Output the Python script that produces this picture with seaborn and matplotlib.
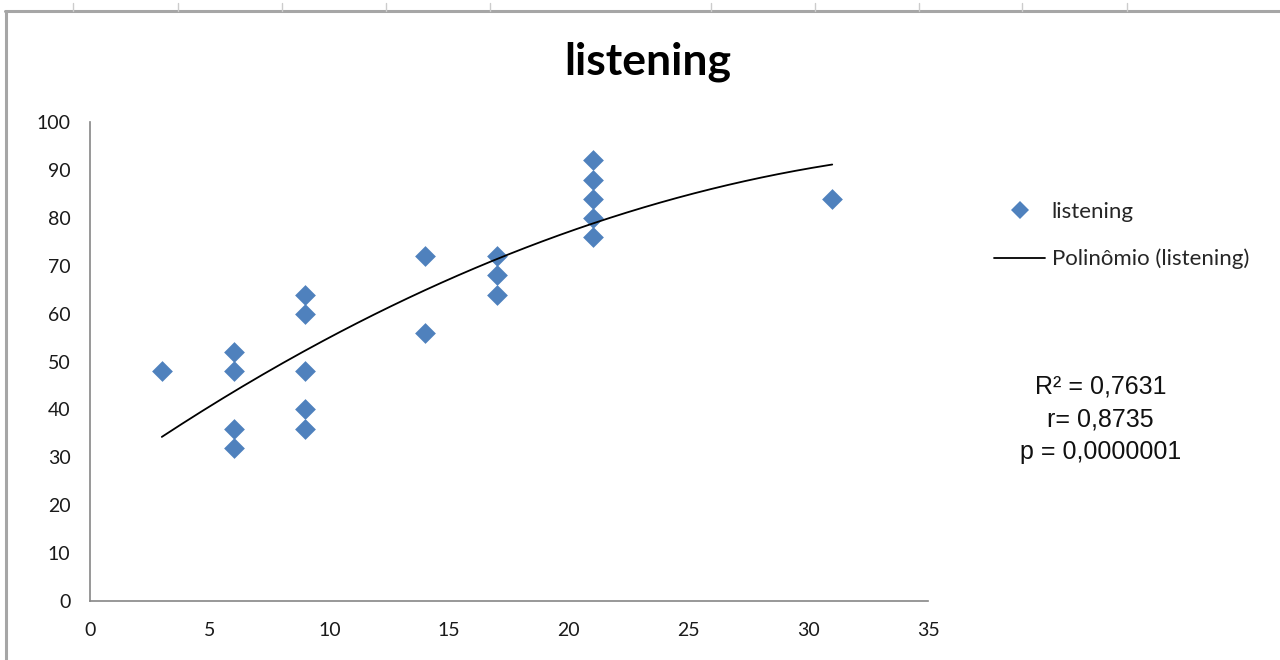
import matplotlib
matplotlib.use("Agg")
import matplotlib.pyplot as plt
import seaborn as sns
import pandas as pd
import numpy as np
from matplotlib.lines import Line2D

# data
hours = [3, 6, 6, 6, 6, 9, 9, 9, 9, 9, 14, 14, 17, 17, 17, 21, 21, 21, 21, 21, 31]
scores = [48, 52, 48, 36, 32, 64, 60, 48, 40, 36, 72, 56, 72, 68, 64, 92, 88, 84, 80, 76, 84]
x_ticks = [0, 5, 10, 15, 20, 25, 30, 35]
y_ticks = [0, 10, 20, 30, 40, 50, 60, 70, 80, 90, 100]
stats_lines = ["R² = 0,7631", "r= 0,8735", "p = 0,0000001"]

df = pd.DataFrame({"x": hours, "y": scores})

sns.set_style("white")
plt.rcParams["font.family"] = ["Lato", "DejaVu Sans"]

fig = plt.figure(figsize=(12.8, 6.6), dpi=100)
ax = fig.add_axes([0.0703, 0.0894, 0.6547, 0.7256])

blue = "#4F81BD"
sns.scatterplot(data=df, x="x", y="y", marker="D", s=112, color=blue,
                linewidth=0, ax=ax, legend=False, zorder=3)

# 2nd-order polynomial trendline fitted on the data
coef = np.polyfit(df["x"], df["y"], 2)
xs = np.linspace(min(hours), max(hours), 200)
ax.plot(xs, np.polyval(coef, xs), color="black", lw=1.3, zorder=4)

ax.set_xlim(0, 35)
ax.set_ylim(0, 100)
ax.set_xticks(x_ticks)
ax.set_yticks(y_ticks)
ax.set_xlabel("")
ax.set_ylabel("")
for s in ["top", "right"]:
    ax.spines[s].set_visible(False)
for s in ["left", "bottom"]:
    ax.spines[s].set_color("#868686")
    ax.spines[s].set_linewidth(1.2)
ax.tick_params(axis="both", direction="out", length=6, width=1.2, color="#868686",
               labelsize=14, labelcolor="#1a1a1a")
ax.tick_params(axis="x", pad=9)
ax.tick_params(axis="y", pad=8)

fig.text(0.506, 0.906, "listening", ha="center", va="center", fontsize=32,
         fontweight="bold", color="black")

handles = [
    Line2D([], [], marker="D", color=blue, ls="none", markersize=9.5, markeredgewidth=0),
    Line2D([], [], color="black", lw=1.3),
]
fig.legend(handles, ["listening", "Polinômio (listening)"], loc="upper left",
           bbox_to_anchor=(0.761, 0.724), frameon=False, fontsize=16,
           handlelength=2.3, handletextpad=0.3, labelspacing=1.2)

fig.text(0.860, 0.365, "\n".join(stats_lines), ha="center", va="center",
         fontsize=18, family="Liberation Sans", linespacing=1.45, color="#111111")

# gray frame of the surrounding sheet
fig.add_artist(Line2D([0.004, 1.0], [0.984, 0.984], color="#a6a6a6", lw=2.2))
fig.add_artist(Line2D([0.0045, 0.0045], [0.0, 0.984], color="#a6a6a6", lw=2.2))
for px in [73, 178, 282, 386, 490, 711, 815, 919, 1022, 1127]:
    fig.add_artist(Line2D([px / 1280, px / 1280], [0.984, 0.995], color="#cccccc", lw=1))

fig.savefig("out.png", dpi=100)
